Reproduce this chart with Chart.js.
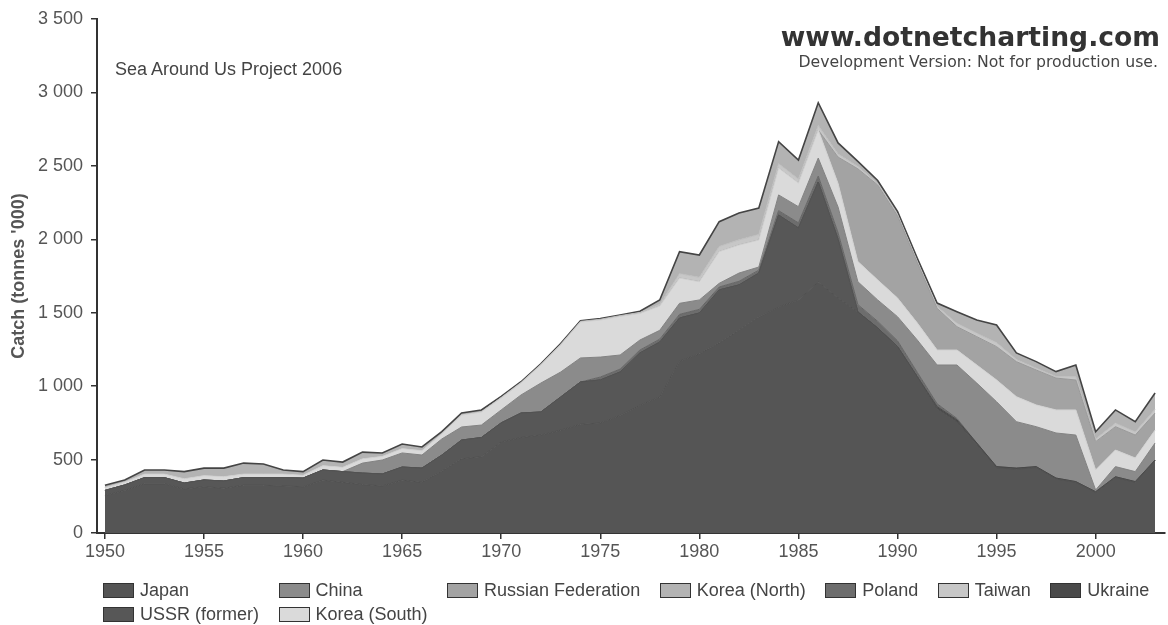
<!DOCTYPE html>
<html>
<head>
<meta charset="utf-8">
<script src="https://cdn.jsdelivr.net/npm/chart.js@4.4.1/dist/chart.umd.min.js"></script>
<style>
  html, body { margin: 0; padding: 0; background: #fff; }
  #wrap { position: relative; width: 1168px; height: 625px; overflow: hidden; font-family: "Liberation Sans", Arial, sans-serif; }
  #chart { position: absolute; left: 0; top: 0; }
  .source { position: absolute; left: 115px; top: 59px; font-size: 18px; color: #444; white-space: nowrap; }
  .brand { position: absolute; right: 8px; top: 23px; font-family: "DejaVu Sans", Verdana, sans-serif; font-weight: bold; font-size: 26.6px; line-height: 28px; color: #333; white-space: nowrap; }
  .brand-note { position: absolute; right: 10px; top: 53px; font-family: "DejaVu Sans", Verdana, sans-serif; font-size: 15.7px; line-height: 17px; color: #444; white-space: nowrap; }
  #legend { position: absolute; left: 103px; top: 578px; display: grid; grid-template-columns: repeat(7, auto); column-gap: 19.5px; grid-auto-rows: 24px; justify-content: start; }
  .item { display: flex; align-items: center; font-size: 18px; color: #444; white-space: nowrap; }
  .box { width: 31px; height: 15px; border: 1.5px solid #333; box-sizing: border-box; margin-right: 6px; }
</style>
</head>
<body>
<div id="wrap">
  <canvas id="chart" width="1168" height="625"></canvas>
  <div class="source">Sea Around Us Project 2006</div>
  <div class="brand">www.dotnetcharting.com</div>
  <div class="brand-note">Development Version: Not for production use.</div>
  <div id="legend"></div>
</div>
<script>
// 年份 1950-2003
const years = [1950,1951,1952,1953,1954,1955,1956,1957,1958,1959,
               1960,1961,1962,1963,1964,1965,1966,1967,1968,1969,
               1970,1971,1972,1973,1974,1975,1976,1977,1978,1979,
               1980,1981,1982,1983,1984,1985,1986,1987,1988,1989,
               1990,1991,1992,1993,1994,1995,1996,1997,1998,1999,
               2000,2001,2002,2003];
const tickYears = [1950,1955,1960,1965,1970,1975,1980,1985,1990,1995,2000];
const yTicks = [0,500,1000,1500,2000,2500,3000,3500];

// catch, tonnes '000
const japan = [255,290,335,335,300,315,305,325,325,320,
               315,360,345,330,320,360,345,420,505,520,
               620,650,667,700,740,749,800,870,926,1170,
               1220,1293,1380,1470,1539,1587,1709,1600,1505,1396,
               1269,1064,845,758,603,444,434,446,368,345,
               276,378,345,492];
const ussr = [35,37,42,42,40,46,49,52,52,57,
              59,69,73,78,82,89,97,110,128,130,
              130,167,157,226,288,293,296,356,374,294,
              278,362,309,300,626,490,681,400,0,0,
              0,0,0,0,0,0,0,0,0,0,
              0,0,0,0];
const ukraine = [0,0,0,0,0,0,0,0,0,0,
                 0,0,0,0,0,0,0,0,0,0,
                 0,0,0,0,0,0,0,0,0,0,
                 0,0,0,0,0,0,0,0,0,0,
                 0,0,15,12,10,8,8,6,6,5,
                 5,5,5,5];
const poland = [0,0,0,0,0,0,0,0,0,0,
                0,0,0,0,0,0,0,0,0,0,
                0,0,0,0,0,20,20,20,20,25,
                25,20,25,20,30,35,40,45,50,45,
                40,30,20,10,0,0,0,0,0,0,
                0,0,0,0];
const china = [0,0,0,0,0,0,0,0,0,0,
               0,0,0,68,95,96,89,110,89,85,
               88,123,197,170,164,136,96,68,60,75,
               64,25,56,21,107,110,123,175,156,146,
               164,220,264,364,408,442,316,272,307,317,
               12,69,68,116];
const koreaSouth = [20,20,25,25,30,30,30,25,25,25,
                    20,30,30,30,25,30,30,35,81,89,
                    81,81,123,184,245,252,263,181,165,172,
                    124,216,191,184,183,161,191,160,137,136,
                    127,116,102,102,123,148,170,148,157,171,
                    136,113,93,88];
const russia = [0,0,0,0,0,0,0,0,0,0,
                0,0,0,0,0,0,0,0,0,0,
                0,0,0,0,0,0,0,0,0,0,
                0,0,0,0,0,0,0,180,632,647,
                560,410,284,159,193,227,239,238,217,204,
                193,159,156,116];
const taiwan = [0,0,0,0,0,0,0,0,0,0,
                0,0,0,0,0,0,0,0,0,0,
                4,4,4,5,4,5,5,6,12,30,
                30,35,35,38,30,27,30,20,15,10,
                10,10,12,22,23,27,14,12,10,22,
                18,24,21,26];
const koreaNorth = [15,14,27,27,48,51,58,74,68,27,
                    24,38,35,45,23,31,25,15,14,14,
                    7,5,4,5,4,5,5,9,30,150,
                    152,169,183,180,150,130,156,76,35,20,
                    20,20,24,80,90,120,45,45,34,80,
                    50,90,70,110];

// 图例顺序 与 堆叠顺序（从下到上）
const legendOrder = ['Japan', 'China', 'Russian Federation', 'Korea (North)', 'Poland',
                     'Taiwan', 'Ukraine', 'USSR (former)', 'Korea (South)'];
const stackOrder = ['Japan', 'USSR (former)', 'Ukraine', 'Poland', 'China',
                    'Korea (South)', 'Russian Federation', 'Taiwan', 'Korea (North)'];

const seriesData = {
    'Japan': japan, 'USSR (former)': ussr, 'Ukraine': ukraine, 'Poland': poland,
    'China': china, 'Korea (South)': koreaSouth, 'Russian Federation': russia,
    'Taiwan': taiwan, 'Korea (North)': koreaNorth
};
const fills = {
    'Japan': '#555555', 'USSR (former)': '#575757', 'Ukraine': '#4a4a4a', 'Poland': '#6d6d6d',
    'China': '#8b8b8b', 'Korea (South)': '#dadada', 'Russian Federation': '#a3a3a3',
    'Taiwan': '#c7c7c7', 'Korea (North)': '#b3b3b3'
};
const edges = {
    'Japan': '#4f4f4f', 'USSR (former)': '#525252', 'Ukraine': '#474747', 'Poland': '#656565',
    'China': '#828282', 'Korea (South)': '#d0d0d0', 'Russian Federation': '#999999',
    'Taiwan': '#bdbdbd', 'Korea (North)': '#444444'
};

const fontFamily = '"Liberation Sans", Arial, sans-serif';

function formatThousands(v) {
    if (v < 1000) return String(v);
    const rest = String(v % 1000).padStart(3, '0');
    return Math.floor(v / 1000) + ' ' + rest;
}

function buildLegend(chart) {
    const box = document.getElementById('legend');
    legendOrder.forEach(name => {
        const ds = chart.data.datasets.find(d => d.label === name);
        const item = document.createElement('div');
        item.className = 'item';
        const sw = document.createElement('span');
        sw.className = 'box';
        sw.style.background = ds.backgroundColor;
        const txt = document.createElement('span');
        txt.textContent = name;
        item.appendChild(sw);
        item.appendChild(txt);
        box.appendChild(item);
    });
}

function initChart() {
    const datasets = stackOrder.map((name, i) => ({
        label: name,
        data: years.map((yr, j) => ({ x: yr, y: seriesData[name][j] })),
        backgroundColor: fills[name],
        borderColor: edges[name],
        borderWidth: name === 'Korea (North)' ? 1.6 : 1,
        fill: i === 0 ? 'origin' : '-1',
        pointRadius: 0,
        tension: 0
    }));

    const ctx = document.getElementById('chart').getContext('2d');
    const chart = new Chart(ctx, {
        type: 'line',
        data: { datasets: datasets },
        options: {
            responsive: false,
            animation: false,
            layout: { padding: { top: 19, right: 3, bottom: 67, left: 0 } },
            plugins: {
                legend: { display: false },
                tooltip: { enabled: false }
            },
            scales: {
                x: {
                    type: 'linear',
                    min: 1949.6,
                    max: 2003.5,
                    afterBuildTicks: axis => { axis.ticks = tickYears.map(v => ({ value: v })); },
                    afterFit: axis => { axis.height = 25; },
                    ticks: {
                        color: '#555',
                        padding: 2,
                        maxRotation: 0,
                        font: { family: fontFamily, size: 18 },
                        callback: v => String(v)
                    },
                    grid: { drawOnChartArea: false, drawTicks: true, tickLength: 6, color: '#333', lineWidth: 1.5 },
                    border: { display: true, color: '#333', width: 2 }
                },
                y: {
                    stacked: true,
                    min: 0,
                    max: 3500,
                    afterBuildTicks: axis => { axis.ticks = yTicks.map(v => ({ value: v })); },
                    afterFit: axis => { axis.width = 97; },
                    ticks: {
                        color: '#555',
                        padding: 8,
                        font: { family: fontFamily, size: 18 },
                        callback: v => formatThousands(v)
                    },
                    grid: { drawOnChartArea: false, drawTicks: true, tickLength: 6, color: '#333', lineWidth: 1.5 },
                    border: { display: true, color: '#333', width: 2 },
                    title: {
                        display: true,
                        text: "Catch (tonnes '000)",
                        color: '#555',
                        padding: { top: 8 },
                        font: { family: fontFamily, size: 18, weight: 'bold' }
                    }
                }
            }
        }
    });

    buildLegend(chart);
}

document.addEventListener('DOMContentLoaded', initChart);
</script>
</body>
</html>
